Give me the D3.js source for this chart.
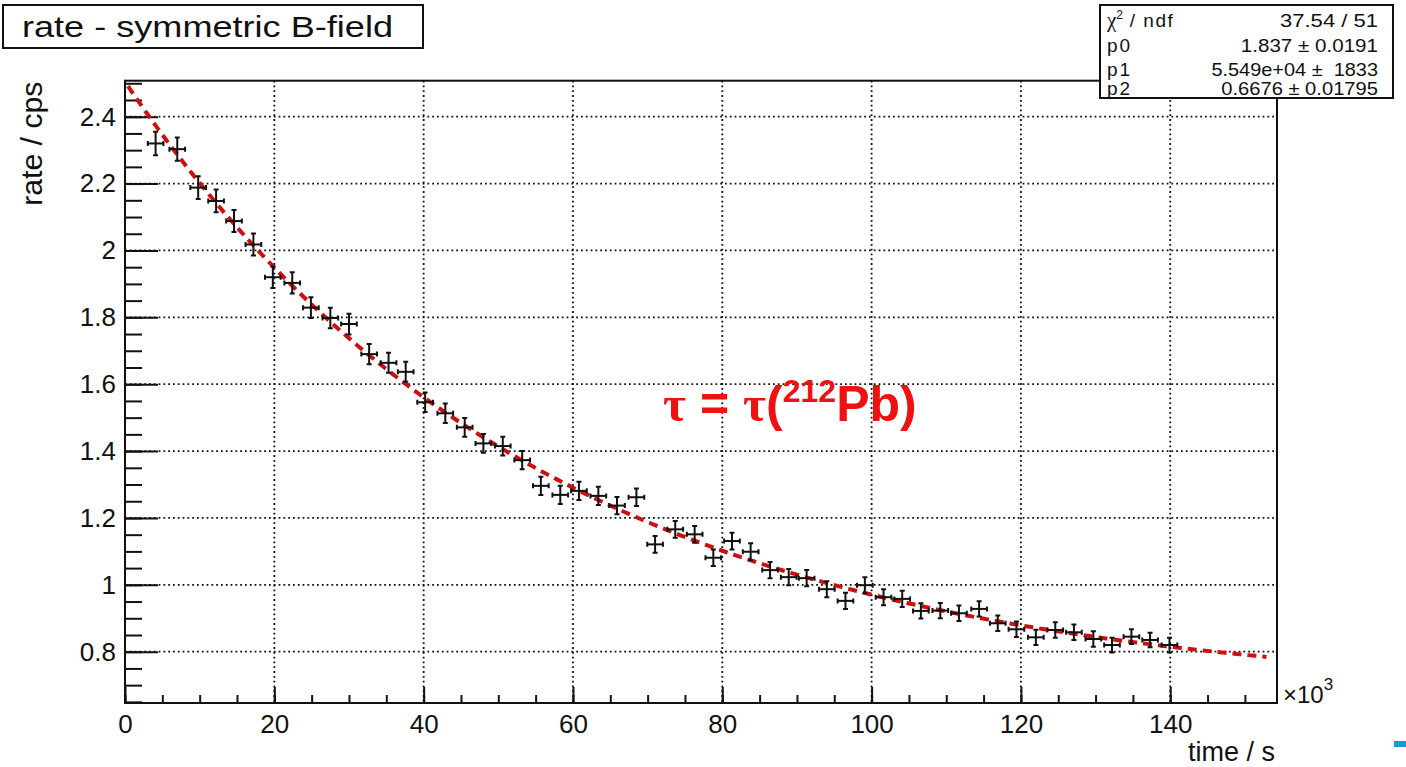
<!DOCTYPE html>
<html lang="en">
<head>
<meta charset="utf-8">
<title>rate - symmetric B-field</title>
<script src="https://d3js.org/d3.v7.min.js"></script>
<style>
    body{margin:0;background:#fff;}
    svg{display:block;font-family:"Liberation Sans",Arial,sans-serif;}
</style>
</head>
<body>
<svg width="1406" height="767"></svg>
<script>

// time in units of 10^3 s, rate in cps
const times = [4.1, 7.0, 9.8, 12.2, 14.6, 17.2, 19.8, 22.4, 24.9, 27.5,
               30.0, 32.7, 35.3, 37.6, 40.2, 42.9, 45.5, 48.0, 50.6, 53.2,
               55.7, 58.3, 60.8, 63.4, 65.9, 68.5, 71.0, 73.7, 76.3, 78.8,
               81.3, 83.8, 86.4, 88.9, 91.3, 94.0, 96.5, 99.1, 101.6, 104.1,
               106.6, 109.2, 111.7, 114.4, 116.9, 119.4, 122.0, 124.6, 127.1, 129.7,
               132.2, 134.8, 137.3, 139.9];
const rates = [2.320, 2.303, 2.188, 2.148, 2.088, 2.018, 1.920, 1.903, 1.829, 1.798,
               1.780, 1.690, 1.664, 1.637, 1.546, 1.513, 1.471, 1.423, 1.415, 1.373,
               1.296, 1.269, 1.281, 1.266, 1.237, 1.262, 1.121, 1.166, 1.151, 1.081,
               1.131, 1.099, 1.044, 1.023, 1.020, 0.987, 0.952, 0.999, 0.963, 0.958,
               0.922, 0.923, 0.915, 0.928, 0.885, 0.867, 0.843, 0.865, 0.858, 0.838,
               0.820, 0.845, 0.835, 0.820];
const rateErrors = [0.035, 0.035, 0.034, 0.034, 0.033, 0.033, 0.032, 0.032, 0.031, 0.031,
                    0.031, 0.030, 0.030, 0.030, 0.029, 0.029, 0.028, 0.028, 0.028, 0.027,
                    0.027, 0.027, 0.027, 0.027, 0.026, 0.026, 0.025, 0.025, 0.025, 0.025,
                    0.025, 0.025, 0.024, 0.024, 0.024, 0.024, 0.024, 0.024, 0.024, 0.024,
                    0.023, 0.023, 0.023, 0.023, 0.023, 0.023, 0.023, 0.023, 0.023, 0.023,
                    0.022, 0.022, 0.022, 0.022];
const timeHalfWidth = 1.05;

// fit: p0*exp(-t/p1)+p2  (p1 in 10^3 s)
const fitP0 = 1.837, fitP1 = 55.49, fitP2 = 0.6676;
const fitRange = [0.4, 153];

const statsLabels = ["ndf", "p0", "p1", "p2"];
const statsValues = ["37.54 / 51", "1.837 \u00b1 0.0191", "5.549e+04 \u00b1  1833", "0.6676 \u00b1 0.01795"];

const xMajor = [0, 20, 40, 60, 80, 100, 120, 140];
const xMinor = d3.range(0, 155, 5);
const yMajor = [0.8, 1, 1.2, 1.4, 1.6, 1.8, 2, 2.2, 2.4];
const yMinor = d3.range(0.65, 2.51, 0.05);

const svg = d3.select("svg");
const plotLeft = 125, plotRight = 1277, plotTop = 80.7, plotBottom = 703;

const x = d3.scaleLinear().domain([0, 154.3]).range([plotLeft, plotRight]);
const y = d3.scaleLinear().domain([0.6466, 2.5077]).range([plotBottom, plotTop]);

// grid
svg.append("g").selectAll("line")
    .data(xMajor.filter(d => d > 0))
    .join("line")
    .attr("x1", d => x(d)).attr("x2", d => x(d))
    .attr("y1", plotTop).attr("y2", plotBottom)
    .attr("stroke", "#111").attr("stroke-width", 1.8)
    .attr("stroke-dasharray", "1.8,3");
svg.append("g").selectAll("line")
    .data(yMajor)
    .join("line")
    .attr("x1", plotLeft).attr("x2", plotRight)
    .attr("y1", d => y(d)).attr("y2", d => y(d))
    .attr("stroke", "#111").attr("stroke-width", 1.8)
    .attr("stroke-dasharray", "1.8,3");

// axes
const yAxis = svg.append("g")
    .attr("transform", `translate(${plotLeft},0)`)
    .call(d3.axisLeft(y).tickValues(yMajor).tickSize(-33).tickPadding(9)
        .tickFormat(d3.format("~g")));
const yAxisMinor = svg.append("g")
    .attr("transform", `translate(${plotLeft},0)`)
    .call(d3.axisLeft(y).tickValues(yMinor).tickSize(-17).tickFormat(""));
const xAxis = svg.append("g")
    .attr("transform", `translate(0,${plotBottom})`)
    .call(d3.axisBottom(x).tickValues(xMajor).tickSize(-16).tickPadding(12)
        .tickFormat(d3.format("d")));
const xAxisMinor = svg.append("g")
    .attr("transform", `translate(0,${plotBottom})`)
    .call(d3.axisBottom(x).tickValues(xMinor).tickSize(-8).tickFormat(""));

[yAxis, yAxisMinor, xAxis, xAxisMinor].forEach(g => {
    g.select(".domain").remove();
    g.selectAll("line").attr("stroke", "#111").attr("stroke-width", 2);
    g.selectAll("text")
        .attr("font-family", "'Liberation Sans', Arial, sans-serif")
        .attr("font-size", 26)
        .attr("fill", "#111");
});

// frame
svg.append("rect")
    .attr("x", plotLeft).attr("y", plotTop)
    .attr("width", plotRight - plotLeft).attr("height", plotBottom - plotTop)
    .attr("fill", "none").attr("stroke", "#111").attr("stroke-width", 2);

// fit curve
const fitData = d3.range(fitRange[0], fitRange[1], 0.5)
    .map(t => [t, fitP0 * Math.exp(-t / fitP1) + fitP2]);
svg.append("path")
    .datum(fitData)
    .attr("d", d3.line().x(d => x(d[0])).y(d => y(d[1])))
    .attr("fill", "none")
    .attr("stroke", "#cc1010")
    .attr("stroke-width", 4)
    .attr("stroke-dasharray", "9,6");

// data points with error bars
const points = svg.append("g").selectAll("g")
    .data(times.map((t, i) => ({t: t, r: rates[i], e: rateErrors[i]})))
    .join("g")
    .attr("stroke", "#111").attr("stroke-width", 2);
points.append("line")
    .attr("x1", d => x(d.t - timeHalfWidth)).attr("x2", d => x(d.t + timeHalfWidth))
    .attr("y1", d => y(d.r)).attr("y2", d => y(d.r));
points.append("line")
    .attr("x1", d => x(d.t)).attr("x2", d => x(d.t))
    .attr("y1", d => y(d.r - d.e)).attr("y2", d => y(d.r + d.e));
// small end caps
points.append("path")
    .attr("d", d => {
        const cx = x(d.t), cy = y(d.r);
        const x0 = x(d.t - timeHalfWidth), x1 = x(d.t + timeHalfWidth);
        const y0 = y(d.r + d.e), y1 = y(d.r - d.e);
        return `M${cx - 2.5},${y0}H${cx + 2.5}M${cx - 2.5},${y1}H${cx + 2.5}` +
               `M${x0},${cy - 2.5}V${cy + 2.5}M${x1},${cy - 2.5}V${cy + 2.5}`;
    })
    .attr("fill", "none");

// axis titles
svg.append("text")
    .attr("transform", `translate(42,${plotTop + 1}) rotate(-90)`)
    .attr("text-anchor", "end")
    .attr("font-size", 29)
    .attr("textLength", 124).attr("lengthAdjust", "spacingAndGlyphs")
    .attr("fill", "#111")
    .text("rate / cps");
svg.append("text")
    .attr("x", plotRight - 2).attr("y", 761)
    .attr("text-anchor", "end")
    .attr("font-size", 27)
    .attr("fill", "#111")
    .text("time / s");

const mult = svg.append("text")
    .attr("x", 1283).attr("y", 703)
    .attr("font-size", 24)
    .attr("fill", "#111");
mult.append("tspan").text("\u00d710");
mult.append("tspan").attr("dy", -13).attr("font-size", 17).text("3");

// title box
svg.append("rect")
    .attr("x", 3).attr("y", 5).attr("width", 420).attr("height", 43)
    .attr("fill", "#fff").attr("stroke", "#111").attr("stroke-width", 2);
svg.append("text")
    .attr("x", 22).attr("y", 37)
    .attr("font-size", 30)
    .attr("textLength", 371).attr("lengthAdjust", "spacingAndGlyphs")
    .attr("fill", "#111")
    .text("rate - symmetric B-field");

// stats box
svg.append("rect")
    .attr("x", 1100).attr("y", 5).attr("width", 293).attr("height", 93)
    .attr("fill", "#fff").attr("stroke", "#111").attr("stroke-width", 2);
const rowBase = [27, 52, 76, 95];
statsLabels.forEach((lab, i) => {
    const t = svg.append("text")
        .attr("x", 1107).attr("y", rowBase[i])
        .attr("font-size", 19).attr("fill", "#111");
    if (i === 0) {
        t.append("tspan").attr("font-family", "'Liberation Serif', serif").attr("font-size", 21).text("\u03c7");
        t.append("tspan").attr("dy", -8).attr("font-size", 12).text("2");
        t.append("tspan").attr("dy", 8).attr("letter-spacing", 1.5).text(" / " + lab);
    } else {
        t.attr("letter-spacing", 2).text(lab);
    }
    svg.append("text")
        .attr("x", 1378).attr("y", rowBase[i])
        .attr("text-anchor", "end")
        .attr("font-size", 18.5).attr("fill", "#111")
        .attr("xml:space", "preserve")
        .attr("textLength", statsValues[i].length * 9.8)
        .attr("lengthAdjust", "spacingAndGlyphs")
        .text(statsValues[i]);
});

// annotation
const ann = svg.append("text")
    .attr("x", 663).attr("y", 421)
    .attr("font-size", 50).attr("font-weight", "bold")
    .attr("fill", "#ee1111");
ann.append("tspan").attr("font-family", "'Liberation Serif', serif").text("\u03c4");
ann.append("tspan").text(" = ");
ann.append("tspan").attr("font-family", "'Liberation Serif', serif").text("\u03c4");
ann.append("tspan").text("(");
ann.append("tspan").attr("dy", -19).attr("font-size", 32).text("212");
ann.append("tspan").attr("dy", 19).text("Pb)");

// small blue mark at the edge
svg.append("rect")
    .attr("x", 1394).attr("y", 741).attr("width", 12).attr("height", 6)
    .attr("fill", "#1a9bd7");

</script>
</body>
</html>
